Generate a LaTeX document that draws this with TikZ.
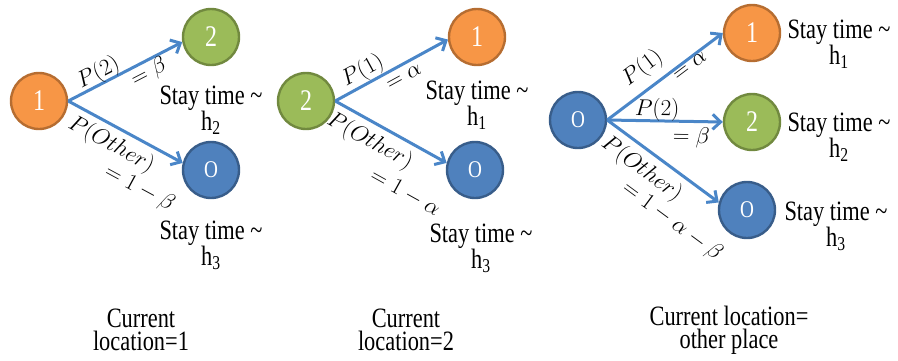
\RequirePackage{fix-cm}
\documentclass[tikz,border=0pt]{standalone}
\usepackage{fontspec}
\setmainfont{Liberation Serif}[FakeStretch=0.8]
\usetikzlibrary{arrows.meta,positioning}
\definecolor{locorange}{HTML}{F79646}
\definecolor{locorangeline}{HTML}{B66D31}
\definecolor{locgreen}{HTML}{9BBB59}
\definecolor{locgreenline}{HTML}{71893F}
\definecolor{locblue}{HTML}{4F81BD}
\definecolor{locblueline}{HTML}{385D8A}
\definecolor{arrowblue}{HTML}{4A86C8}

\begin{document}
\begin{tikzpicture}[x=1pt,y=-1pt,on grid,
  place/.style={circle,draw,line width=2.4pt,minimum size=56pt,inner sep=0pt,text=white,font=\fontsize{30}{30}\selectfont},
  loc1/.style={place,fill=locorange,draw=locorangeline},
  loc2/.style={place,fill=locgreen,draw=locgreenline},
  other/.style={place,fill=locblue,draw=locblueline,font=\fontsize{24}{24}\selectfont},
  trans/.style={draw=arrowblue,line width=3pt,-{Straight Barb[length=8pt,width=15pt]}},
  prob/.style={sloped,inner sep=0pt,font=\fontsize{23}{23}\selectfont},
  stay/.style={align=center,inner sep=0pt,font=\fontsize{28}{26}\selectfont},
  caption/.style={align=center,inner sep=0pt,font=\fontsize{28}{23}\selectfont}]
  \useasboundingbox (0,0) rectangle (898,360);

  % current location = 1
  \node[loc1] (a1) at (39,101) {1};
  \node[loc2] (a2) [above right=64pt and 172pt of a1] {2};
  \node[other] (aO) [below right=69pt and 172pt of a1] {O};
  \path (a1.east) edge[trans] node[prob,pos=0.31,yshift=11pt] {$P(2)$} node[prob,pos=0.66,yshift=-12pt] {$=\beta$} (a2.190)
  (a1.east) edge[trans] node[prob,pos=0.45,yshift=-18pt] {$P(Other)$} node[prob,pos=0.8,yshift=-43pt] {$=1-\beta$} (aO.166);
  \node[stay] (a2h) [below=73pt of a2] {Stay time \textasciitilde\\h\textsubscript{2}};
  \node[stay] (aOh) [below=75pt of aO] {Stay time \textasciitilde\\h\textsubscript{3}};
  \node[caption] (cap1) at (141,330) {Current\\location=1};

  % current location = 2
  \node[loc2] (b2) at (306,101) {2};
  \node[loc1] (b1) [above right=64pt and 171pt of b2] {1};
  \node[other] (bO) [below right=69pt and 169pt of b2] {O};
  \path (b2.east) edge[trans] node[prob,pos=0.30,yshift=13pt] {$P(1)$} node[prob,pos=0.56,yshift=-12pt] {$=\alpha$} (b1.185)
  (b2.east) edge[trans] node[prob,pos=0.39,yshift=-18.5pt] {$P(Other)$} node[prob,pos=0.83,yshift=-46pt] {$=1-\alpha$} (bO.166);
  \node[stay] (b1h) [below=68pt of b1] {Stay time \textasciitilde\\h\textsubscript{1}};
  \node[stay] (bOh) [below right=78pt and 6pt of bO] {Stay time \textasciitilde\\h\textsubscript{3}};
  \node[caption] (cap2) at (406,330) {Current\\location=2};

  % current location = other place
  \node[other] (cO) at (578,120) {O};
  \node[loc1] (c1) [above right=87pt and 174pt of cO] {1};
  \node[loc2] (c2) [below right=2pt and 174pt of cO] {2};
  \node[other] (cOO) [below right=90pt and 169pt of cO] {O};
  \path (cO.east) edge[trans] node[prob,pos=0.41,yshift=20pt] {$P(1)$} node[prob,pos=0.68,yshift=-7pt] {$=\alpha$} (c1.180)
  (cO.east) edge[trans] node[prob,pos=0.43,yshift=11pt] {$P(2)$} node[prob,pos=0.73,yshift=-16pt] {$=\beta$} (c2.180)
  (cO.east) edge[trans] node[prob,pos=0.41,yshift=-19pt] {$P(Other)$} node[prob,pos=0.81,yshift=-43pt] {$=1-\alpha-\beta$} (cOO.165);
  \node[stay] (c1h) [below right=11pt and 87pt of c1] {Stay time \textasciitilde\\h\textsubscript{1}};
  \node[stay] (c2h) [below right=15pt and 87pt of c2] {Stay time \textasciitilde\\h\textsubscript{2}};
  \node[stay] (cOh) [below right=16pt and 89pt of cOO] {Stay time \textasciitilde\\h\textsubscript{3}};
  \node[caption] (cap3) at (729,330) {Current location=\\other place};
\end{tikzpicture}
\end{document}
